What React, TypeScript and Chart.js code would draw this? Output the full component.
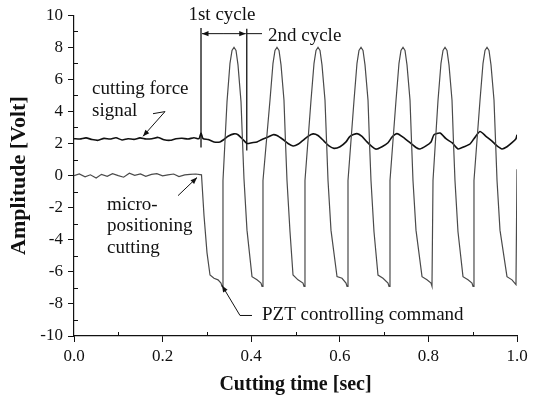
import React, { useEffect, useRef } from "react";
import { Chart, registerables } from "chart.js";
Chart.register(...registerables);

// ---- data ----
const xTicks = [0, 0.2, 0.4, 0.6, 0.8, 1.0];
const yTicks = [-10, -8, -6, -4, -2, 0, 2, 4, 6, 8, 10];
const xMinorTicks = [0.1, 0.3, 0.5, 0.7, 0.9];
const yMinorTicks = [-9, -7, -5, -3, -1, 1, 3, 5, 7, 9];

const xTitle = "Cutting time [sec]";
const yTitle = "Amplitude [Volt]";

// PZT controlling command
const pztT = [
  0, 0.012, 0.025, 0.037, 0.05, 0.062, 0.075, 0.087, 0.1, 0.112, 0.125, 0.137, 0.15, 0.162, 0.175, 0.187, 0.2, 0.212, 0.225, 0.237, 0.25, 0.262, 0.275, 0.2878,
  0.2935, 0.3002, 0.307, 0.316, 0.3251, 0.3318, 0.3341,
  0.3363, 0.3454, 0.3521, 0.3567, 0.3612, 0.3657, 0.3702, 0.377, 0.3803, 0.3837, 0.3905, 0.4018, 0.4131, 0.4221, 0.4244,
  0.4266, 0.4424, 0.4492, 0.4537, 0.4582, 0.4628, 0.4673, 0.474, 0.4774, 0.4808, 0.4876, 0.4944, 0.5056, 0.5169, 0.5192,
  0.5214, 0.535, 0.5418, 0.5463, 0.5508, 0.5553, 0.5598, 0.5666, 0.57, 0.5734, 0.5801, 0.5937, 0.605, 0.614, 0.6163,
  0.6185, 0.6321, 0.6388, 0.6433, 0.6479, 0.6524, 0.6569, 0.6637, 0.667, 0.6704, 0.6772, 0.6862, 0.6975, 0.7088, 0.7111,
  0.7133, 0.7269, 0.7336, 0.7381, 0.7427, 0.7472, 0.7517, 0.7585, 0.7618, 0.7652, 0.772, 0.7856, 0.7968, 0.8059, 0.8081,
  0.8104, 0.8217, 0.8284, 0.833, 0.8375, 0.842, 0.8465, 0.8533, 0.8566, 0.86, 0.8668, 0.8781, 0.8894, 0.8984, 0.9007,
  0.9029, 0.9165, 0.9233, 0.9278, 0.9323, 0.9368, 0.9413, 0.9481, 0.9515, 0.9549, 0.9616, 0.9774, 0.9887, 0.9977, 1.0,
];
const pztV = [
  0.0, 0.1, -0.08, 0.05, -0.15, 0.08, -0.05, 0.12, 0.0, -0.1, 0.15, 0.02, 0.1, -0.05, 0.08, 0.12, -0.02, 0.05, 0.1, -0.06, 0.04, 0.08, 0.1, 0.05,
  -2.5, -4.8, -6.2, -6.4, -6.5, -6.7, -6.9,
  -0.3, 4.6, 7.0, 7.8, 8.0, 7.8, 6.9, 4.6, 2.2, -0.2, -3.4, -6.3, -6.5, -6.7, -6.9,
  -0.3, 4.7, 7.0, 7.8, 8.0, 7.8, 6.9, 4.7, 2.1, -0.3, -3.5, -6.2, -6.5, -6.7, -6.9,
  -0.3, 4.7, 7.0, 7.8, 8.0, 7.8, 6.9, 4.7, 2.2, -0.3, -3.4, -6.3, -6.4, -6.7, -6.9,
  -0.3, 4.7, 7.0, 7.8, 8.0, 7.8, 6.9, 4.7, 2.1, -0.3, -3.5, -6.2, -6.4, -6.7, -6.9,
  -0.3, 4.7, 7.0, 7.8, 8.0, 7.8, 6.9, 4.7, 2.2, -0.3, -3.4, -6.3, -6.5, -6.7, -6.9,
  -0.3, 4.7, 7.0, 7.8, 8.0, 7.8, 6.9, 4.7, 2.1, -0.3, -3.5, -6.3, -6.5, -6.7, -6.9,
  -0.3, 4.7, 7.0, 7.8, 8.0, 7.8, 6.9, 4.7, 2.2, -0.3, -3.4, -6.3, -6.5, -6.8, 0.4,
];

// cutting force signal
const forceT = [
  0, 0.0135, 0.0271, 0.0406, 0.0542, 0.0677, 0.0813, 0.0948, 0.1084, 0.1219, 0.1354, 0.149, 0.1625, 0.1761, 0.1896, 0.2032, 0.2167, 0.2302, 0.2438, 0.2573, 0.2709, 0.2822,
  0.2867, 0.2912, 0.3025, 0.316, 0.3296, 0.3386, 0.3476, 0.3612, 0.3702, 0.3815, 0.3905, 0.4018, 0.4131, 0.4244,
  0.4379, 0.4492, 0.4582, 0.4718, 0.4831, 0.4944, 0.5056, 0.5169, 0.5282, 0.5395, 0.5508, 0.5643, 0.5756, 0.5869,
  0.6005, 0.614, 0.623, 0.6388, 0.6501, 0.6614, 0.6727, 0.6817, 0.6953, 0.7088, 0.7178, 0.7291, 0.7427, 0.7585,
  0.772, 0.781, 0.7946, 0.8059, 0.8126, 0.8262, 0.8397, 0.8533, 0.8668, 0.8804, 0.8939, 0.9029, 0.9165, 0.93,
  0.9436, 0.9549, 0.9661, 0.9774, 0.9887, 0.9977, 1.0,
];
const forceV = [
  2.3, 2.28, 2.35, 2.25, 2.2, 2.32, 2.28, 2.36, 2.22, 2.3, 2.26, 2.35, 2.28, 2.3, 2.38, 2.24, 2.2, 2.3, 2.33, 2.28, 2.36, 2.3,
  2.65, 2.3, 2.25, 2.1, 2.1, 2.25, 2.45, 2.6, 2.55, 2.25, 2.0, 2.05, 2.1, 2.25,
  2.4, 2.55, 2.5, 2.25, 2.0, 1.85, 1.95, 2.2, 2.45, 2.6, 2.5, 2.15, 1.85, 1.7,
  1.8, 2.1, 2.45, 2.62, 2.45, 2.1, 1.8, 1.65, 1.8, 2.05, 2.4, 2.62, 2.4, 2.05,
  1.75, 1.66, 1.85, 2.1, 2.55, 2.65, 2.3, 2.05, 1.66, 1.8, 1.97, 2.3, 2.75, 2.45,
  2.15, 1.85, 1.66, 1.8, 2.05, 2.3, 2.55,
];

const SERIF = '"Liberation Serif", "Times New Roman", serif';
const INK = "#111";

function arrowHead(ctx: CanvasRenderingContext2D, x1: number, y1: number, x2: number, y2: number, size: number) {
  const a = Math.atan2(y2 - y1, x2 - x1);
  ctx.beginPath();
  ctx.moveTo(x2, y2);
  ctx.lineTo(x2 - size * Math.cos(a - 0.38), y2 - size * Math.sin(a - 0.38));
  ctx.lineTo(x2 - size * Math.cos(a + 0.38), y2 - size * Math.sin(a + 0.38));
  ctx.closePath();
  ctx.fill();
}

function polyArrow(ctx: CanvasRenderingContext2D, pts: number[][], head: boolean) {
  ctx.beginPath();
  ctx.moveTo(pts[0][0], pts[0][1]);
  for (let i = 1; i < pts.length; i++) ctx.lineTo(pts[i][0], pts[i][1]);
  ctx.stroke();
  if (head) {
    const n = pts.length;
    arrowHead(ctx, pts[n - 2][0], pts[n - 2][1], pts[n - 1][0], pts[n - 1][1], 7);
  }
}

const annotationPlugin = {
  id: "annot",
  afterDraw(chart: any) {
    const { ctx, scales } = chart;
    const xs = scales.x;
    const ys = scales.y;
    const px = (t: number) => xs.getPixelForValue(t);
    const py = (v: number) => ys.getPixelForValue(v);
    ctx.save();
    ctx.strokeStyle = INK;
    ctx.fillStyle = INK;
    ctx.lineWidth = 1;
    // minor ticks (inside)
    const left = chart.chartArea.left;
    const bottom = chart.chartArea.bottom;
    ctx.beginPath();
    yMinorTicks.forEach((v) => {
      const y = Math.round(py(v)) + 0.5;
      ctx.moveTo(left, y);
      ctx.lineTo(left + 4, y);
    });
    xMinorTicks.forEach((t) => {
      const x = Math.round(px(t)) + 0.5;
      ctx.moveTo(x, bottom);
      ctx.lineTo(x, bottom - 4);
    });
    ctx.stroke();

    // texts
    ctx.font = `19px ${SERIF}`;
    ctx.textBaseline = "middle";
    ctx.textAlign = "left";
    ctx.fillText("cutting force", px(0.0406), py(5.42));
    ctx.fillText("signal", px(0.0406), py(4.05));
    ctx.fillText("micro-", px(0.0745), py(-1.81));
    ctx.fillText("positioning", px(0.0745), py(-3.12));
    ctx.fillText("cutting", px(0.0745), py(-4.49));
    ctx.fillText("PZT controlling command", px(0.4244), py(-8.72));
    ctx.fillText("2nd cycle", px(0.4379), py(8.72));
    ctx.textAlign = "center";
    ctx.fillText("1st cycle", px(0.334), py(10.0));

    // cycle markers
    ctx.lineWidth = 1.3;
    ctx.beginPath();
    ctx.moveTo(px(0.2867), py(9.2));
    ctx.lineTo(px(0.2867), py(1.75));
    ctx.moveTo(px(0.39), py(9.15));
    ctx.lineTo(px(0.39), py(1.56));
    ctx.stroke();
    ctx.lineWidth = 1;
    const ya = py(8.85);
    polyArrow(ctx, [[px(0.3385), ya], [px(0.2867) + 1, ya]], true);
    polyArrow(ctx, [[px(0.3385), ya], [px(0.39) - 1, ya]], true);
    polyArrow(ctx, [[px(0.39), ya], [px(0.4244), ya]], false);

    // leaders
    polyArrow(ctx, [[px(0.1783), py(3.86)], [px(0.2054), py(3.99)], [px(0.1558), py(2.45)]], true);
    polyArrow(ctx, [[px(0.2348), py(-1.25)], [px(0.2777), py(-0.12)]], true);
    polyArrow(ctx, [[px(0.4018), py(-8.72)], [px(0.3747), py(-8.72)], [px(0.3341), py(-6.85)]], true);
    ctx.restore();
  },
};

export default function App() {
  const ref = useRef<HTMLCanvasElement>(null);
  useEffect(() => {
    if (!ref.current) return;
    const chart = new Chart(ref.current, {
      type: "line",
      data: {
        datasets: [
          {
            label: "PZT controlling command",
            data: pztT.map((t, i) => ({ x: t, y: pztV[i] })),
            borderColor: "#4a4a4a",
            borderWidth: 1.2,
            pointRadius: 0,
            tension: 0,
          },
          {
            label: "cutting force signal",
            data: forceT.map((t, i) => ({ x: t, y: forceV[i] })),
            borderColor: "#111",
            borderWidth: 1.6,
            pointRadius: 0,
            tension: 0.2,
          },
        ],
      },
      options: {
        responsive: false,
        animation: false,
        layout: { padding: { top: 15, right: 23, left: 0, bottom: 0 } },
        plugins: { legend: { display: false }, tooltip: { enabled: false } },
        scales: {
          x: {
            type: "linear",
            min: 0,
            max: 1,
            afterBuildTicks: (s: any) => {
              s.ticks = xTicks.map((v) => ({ value: v }));
            },
            afterFit: (s: any) => {
              s.height = 63;
            },
            ticks: {
              callback: (v: any) => Number(v).toFixed(1),
              font: { size: 17, family: SERIF },
              color: INK,
              padding: 4,
              maxRotation: 0,
              autoSkip: false,
            },
            grid: { drawOnChartArea: false, drawTicks: true, tickLength: 6, color: INK, lineWidth: 1 },
            border: { display: true, color: INK, width: 1.2 },
            title: {
              display: true,
              text: xTitle,
              font: { size: 20, weight: "bold", family: SERIF },
              color: INK,
              padding: { top: 0, bottom: 2 },
            },
          },
          y: {
            type: "linear",
            min: -10,
            max: 10,
            afterBuildTicks: (s: any) => {
              s.ticks = yTicks.map((v) => ({ value: v }));
            },
            afterFit: (s: any) => {
              s.width = 74;
            },
            ticks: {
              callback: (v: any) => String(v),
              font: { size: 17, family: SERIF },
              color: INK,
              padding: 5,
              autoSkip: false,
            },
            grid: { drawOnChartArea: false, drawTicks: true, tickLength: 6, color: INK, lineWidth: 1 },
            border: { display: true, color: INK, width: 1.2 },
            title: {
              display: true,
              text: yTitle,
              font: { size: 22, weight: "bold", family: SERIF },
              color: INK,
              padding: { top: 6, bottom: 0 },
            },
          },
        },
      },
      plugins: [annotationPlugin],
    });
    return () => chart.destroy();
  }, []);
  return (
    <div style={{ position: "absolute", left: 0, top: 0, width: 540, height: 399, background: "#fff" }}>
      <canvas ref={ref} width={540} height={399} style={{ display: "block" }} />
    </div>
  );
}
